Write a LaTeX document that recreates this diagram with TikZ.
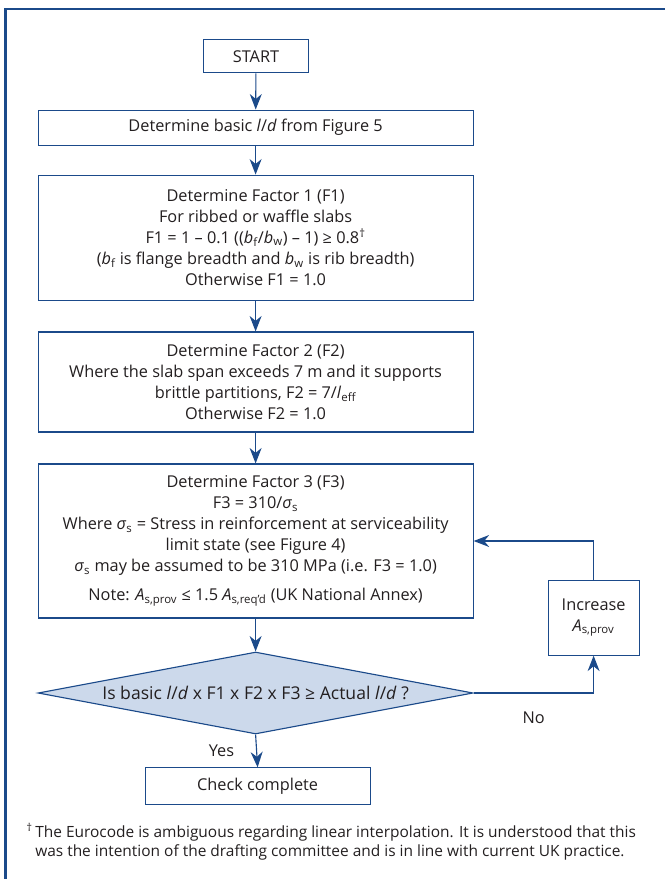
\documentclass[tikz,border=0pt]{standalone}
\usepackage{fontspec}
\setsansfont{Open Sans}
\newcommand{\chartfont}{\sffamily}
\usepackage{xcolor}
\definecolor{ChartBlue}{HTML}{1B4A8A}
\definecolor{ChartInk}{HTML}{231F20}
\definecolor{ChartPaper}{HTML}{FFFFFF}
\definecolor{ChartPale}{HTML}{CCD9EB}
\usepackage{tikz}
\usetikzlibrary{arrows.meta,shapes.geometric}

\begin{document}
\begin{tikzpicture}[
        process/.style={
            draw=ChartBlue,
            fill=ChartPaper,
            text=ChartInk,
            line width=0.8pt,
            minimum width=10.875cm,
            align=center,
            font=\chartfont\fontsize{11.6}{15}\selectfont
        },
        terminal/.style={
            process,
            minimum width=2.625cm,
            minimum height=0.825cm
        },
        decision/.style={
            diamond,
            draw=ChartBlue,
            fill=ChartPale,
            text=ChartInk,
            line width=0.8pt,
            shape aspect=5.3,
            minimum width=10.875cm,
            minimum height=2.05cm,
            inner sep=0pt,
            font=\chartfont\fontsize{12.5}{15}\selectfont
        },
        flow/.style={
            -{Stealth[length=11pt,width=8.5pt,inset=3.5pt]},
            line width=0.8pt,
            draw=ChartBlue
        },
        flowlabel/.style={
            inner sep=0pt,
            text=ChartInk,
            font=\chartfont\fontsize{11.6}{15}\selectfont
        },
        note/.style={
            inner sep=0pt,
            align=left,
            text=ChartInk,
            font=\chartfont\fontsize{11}{13.5}\selectfont
        }
    ]
        \useasboundingbox (0,0) rectangle (16.625,-21.975);
        \draw[ChartBlue, line width=2.1pt]
            (0.1375,-21.975) -- (0.1375,-0.225) -- (16.625,-0.225);

        \node[terminal] (start) at (6.4,-1.41) {START};
        \node[process, minimum height=0.875cm] (basic) at (6.39,-3.19)
            {Determine basic \textit{l}/\textit{d} from Figure 5};
        \node[process, minimum height=3.125cm] (factor1) at (6.39,-5.94)
            {Determine Factor 1 (F1)\\
             For ribbed or waffle slabs\\
             F1 = 1 – 0.1 ((\textit{b}\textsubscript{f}/\textit{b}\textsubscript{w}) – 1) ≥ 0.8\textsuperscript{†}\\
             (\textit{b}\textsubscript{f} is flange breadth and \textit{b}\textsubscript{w} is rib breadth)\\
             Otherwise F1 = 1.0};
        \node[process, minimum height=2.5cm] (factor2) at (6.39,-9.55)
            {Determine Factor 2 (F2)\\
             Where the slab span exceeds 7 m and it supports\\
             brittle partitions, F2 = 7/\textit{l}\textsubscript{eff}\\
             Otherwise F2 = 1.0};
        \node[process, minimum height=3.85cm] (factor3) at (6.39,-13.525)
            {Determine Factor 3 (F3)\\
             F3 = 310/\textit{σ}\textsubscript{s}\\
             Where \textit{σ}\textsubscript{s} = Stress in reinforcement at serviceability\\
             limit state (see Figure 4)\\
             \textit{σ}\textsubscript{s} may be assumed to be 310 MPa (i.e. F3 = 1.0)\\[5.5pt]
             Note: \textit{A}\textsubscript{s,prov} ≤ 1.5 \textit{A}\textsubscript{s,req’d} (UK National Annex)};
        \node[decision] (check) at (6.39,-17.325)
            {Is basic \textit{l}/\textit{d} x F1 x F2 x F3 ≥ Actual \textit{l}/\textit{d} ?};
        \node[process, minimum width=5.625cm, minimum height=0.925cm] (complete) at (6.44,-19.66)
            {Check complete};
        \node[process, minimum width=2.275cm, minimum height=1.875cm] (increase) at (14.84,-15.44)
            {Increase\\\textit{A}\textsubscript{s,prov}};

        \draw[flow] (start) -- (basic);
        \draw[flow] (basic) -- (factor1);
        \draw[flow] (factor1) -- (factor2);
        \draw[flow] (factor2) -- (factor3);
        \draw[flow] (factor3) -- (check);
        \draw[flow] (check.south) -- node[flowlabel, left=0.55cm] {Yes} (complete.north);
        \draw[flow] (check.east) -| node[flowlabel, pos=0.25, below=0.45cm] {No} (increase.south);
        \draw[flow] (increase.north) |- (factor3.east);

        \node[note, anchor=north west] (footnote) at (0.875,-20.58)
            {\llap{\textsuperscript{†}\,}The Eurocode is ambiguous regarding linear interpolation. It is understood that this\\
             was the intention of the drafting committee and is in line with current UK practice.};
    \end{tikzpicture}
\end{document}
